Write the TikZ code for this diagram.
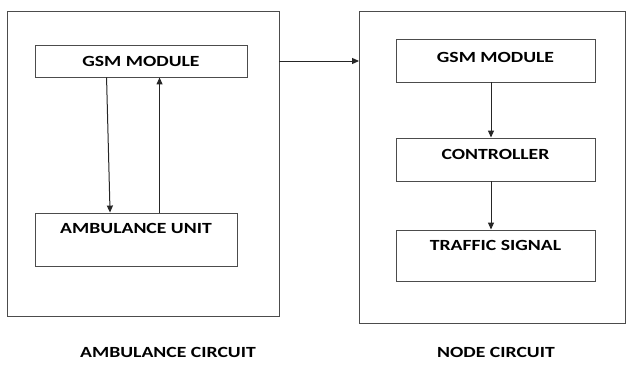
\documentclass[tikz,border=0pt]{standalone}
\usepackage{fontspec}
\usetikzlibrary{arrows.meta,calc}
\newfontfamily\boxfont{Carlito}[FakeStretch=1.27]

\tikzset{
  frame/.style={draw=black!70, line width=0.9pt, fill=none, inner sep=0pt},
  blk/.style={draw=black!70, line width=0.9pt, inner sep=0pt,
    font=\boxfont\bfseries\fontsize{15.5}{18}\selectfont, text=black,
    text height=10pt},
  caption/.style={font=\boxfont\bfseries\fontsize{15.5}{18}\selectfont, text=black},
  flow/.style={draw=black!85, line width=1pt, -{Triangle[length=7pt,width=6pt]}}
}

\begin{document}
\begin{tikzpicture}[x=1pt,y=-1pt]
  \useasboundingbox (0,0) rectangle (627,365);

  % ambulance side
  \node[frame, minimum width=272pt, minimum height=305pt] (outerL) at (143,163.5) {};
  \node[blk, minimum width=212pt, minimum height=32pt, text depth=0pt] (gsmA) at (141,61) {GSM MODULE};
  \node[blk, minimum width=202pt, minimum height=53pt, text depth=23pt] (ambU) at (136,239.5) {AMBULANCE UNIT};

  % node side
  \node[frame, minimum width=266pt, minimum height=312pt] (outerR) at (492.5,167) {};
  \node[blk, minimum width=199pt, minimum height=43pt, text depth=7pt] (gsmB) at (495.5,60.5) {GSM MODULE};
  \node[blk, minimum width=199pt, minimum height=43pt, text depth=11pt] (ctrl) at (495.5,159.5) {CONTROLLER};
  \node[blk, minimum width=199pt, minimum height=51pt, text depth=21pt] (traf) at (495.5,255.5) {TRAFFIC SIGNAL};

  % captions
  \node[caption] (capL) at (168,352) {AMBULANCE CIRCUIT};
  \node[caption] (capR) at (496,352) {NODE CIRCUIT};

  % connectors
  \draw[flow] ($(gsmA.south west)+(72,0)$) -- ($(ambU.north west)+(75.5,0)$);
  \draw[flow] ($(ambU.north west)+(125,0)$) -- ($(gsmA.south west)+(125,0)$);
  \draw[flow] (outerL.east |- gsmA) -- (outerR.west |- gsmA);
  \draw[flow] ($(gsmB.south)+(-4.5,0)$) -- ($(ctrl.north)+(-4.5,0)$);
  \draw[flow] ($(ctrl.south)+(-4.5,0)$) -- ($(traf.north)+(-4.5,0)$);
\end{tikzpicture}
\end{document}
